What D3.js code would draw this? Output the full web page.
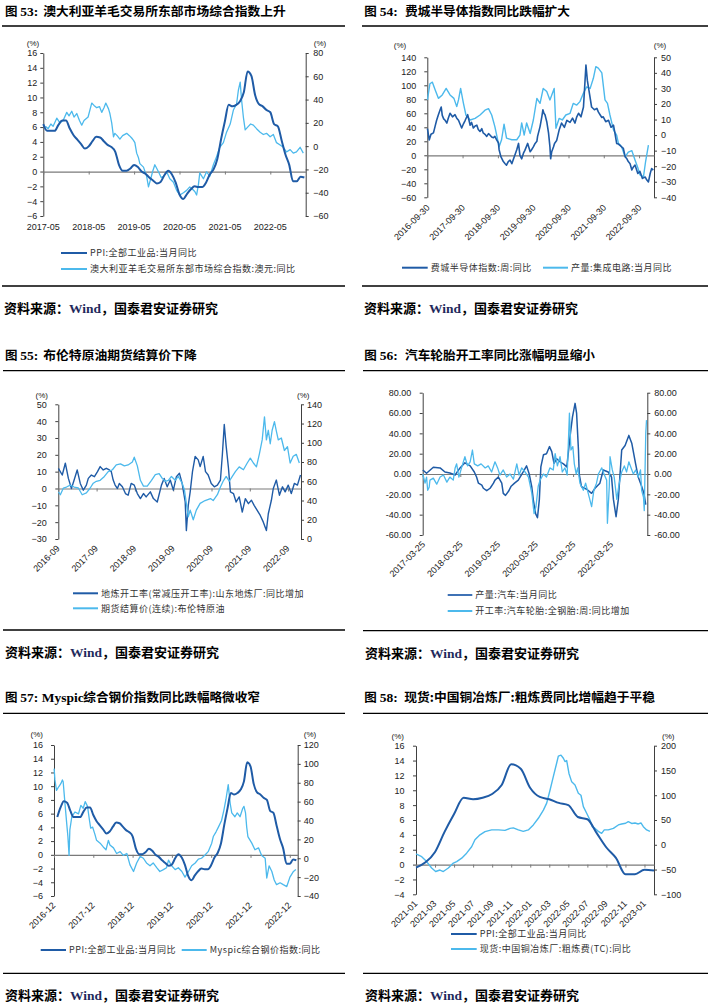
<!DOCTYPE html>
<html><head><meta charset="utf-8">
<script src="https://cdn.jsdelivr.net/npm/d3@7"></script>
<style>
body{margin:0;background:#fff}
svg{display:block}
</style></head>
<body><svg id="chart" width="710" height="1008"></svg>
<script>
// ---------------- DATA ----------------
// China PPI YoY (%), monthly from 2016-12
const ppiStart = [2016, 12];
const ppiValues = [5.5,
 6.9,7.8,7.6,6.4,5.5,5.5,5.5,6.3,6.9,6.9,5.8,4.9,
 4.3,3.7,3.1,3.4,4.1,4.7,4.6,4.1,3.6,3.3,2.7,0.9,
 0.1,0.1,0.4,0.9,0.6,0.0,-0.3,-0.8,-1.2,-1.6,-1.4,-0.5,
 0.1,-0.4,-1.5,-3.1,-3.7,-3.0,-2.4,-2.0,-2.1,-2.1,-1.5,-0.4,
 0.3,1.7,4.4,6.8,9.0,8.8,9.0,9.5,10.7,13.5,12.9,10.3,
 9.1,8.8,8.3,8.0,6.4,6.1,4.2,2.3,0.9,-1.3,-1.3,-0.7,
 -0.8];

// [decimal year, value]
const woolIndex = [[2017.33,21],[2017.38,17],[2017.44,15],[2017.50,19],[2017.55,17],[2017.63,24],[2017.70,20],[2017.77,22],[2017.85,29],[2017.90,26],[2017.96,30],[2018.01,25],[2018.07,28],[2018.13,22],[2018.18,18],[2018.23,22],[2018.32,25],[2018.40,37],[2018.45,35],[2018.51,33],[2018.57,34],[2018.62,29],[2018.67,33],[2018.71,37],[2018.77,32],[2018.80,28],[2018.84,20],[2018.88,8],[2018.91,11],[2018.96,9],[2019.02,6],[2019.08,9],[2019.17,11],[2019.23,9],[2019.28,7],[2019.32,5],[2019.35,3],[2019.39,-6],[2019.43,-10],[2019.46,-15],[2019.54,-18],[2019.61,-26],[2019.65,-35],[2019.70,-28],[2019.74,-22],[2019.79,-16],[2019.87,-22],[2019.93,-27],[2019.98,-26],[2020.05,-22],[2020.12,-28],[2020.20,-31],[2020.27,-38],[2020.34,-42],[2020.42,-40],[2020.49,-38],[2020.56,-35],[2020.62,-37],[2020.67,-39],[2020.71,-42],[2020.75,-33],[2020.78,-23],[2020.86,-28],[2020.93,-22],[2021.00,-26],[2021.08,-16],[2021.15,-9],[2021.22,-1],[2021.30,3],[2021.37,12],[2021.45,19],[2021.52,31],[2021.59,36],[2021.63,48],[2021.67,55],[2021.70,40],[2021.74,25],[2021.78,14],[2021.85,17],[2021.90,19],[2021.96,18],[2022.03,15],[2022.11,12],[2022.18,10],[2022.25,11],[2022.33,8],[2022.40,10],[2022.47,3],[2022.55,1],[2022.62,-1],[2022.69,-5],[2022.77,-3],[2022.84,-6],[2022.91,-5],[2022.99,-1],[2023.06,-6],[2023.12,-1]];

const soxIndex = [[2016.75,38],[2016.80,22],[2016.85,30],[2016.92,32],[2016.97,42],[2017.01,50],[2017.06,58],[2017.11,65],[2017.14,69],[2017.17,57],[2017.21,52],[2017.25,50],[2017.30,46],[2017.34,53],[2017.39,60],[2017.46,55],[2017.53,58],[2017.58,53],[2017.63,50],[2017.67,45],[2017.72,39],[2017.77,45],[2017.82,50],[2017.89,58],[2017.96,43],[2018.00,47],[2018.05,39],[2018.10,42],[2018.15,43],[2018.19,37],[2018.24,34],[2018.29,38],[2018.33,32],[2018.38,30],[2018.43,27],[2018.48,31],[2018.52,29],[2018.57,26],[2018.62,25],[2018.66,27],[2018.71,22],[2018.76,18],[2018.78,8],[2018.81,2],[2018.83,-2],[2018.90,-9],[2018.95,-12],[2018.99,-14],[2019.04,-9],[2019.09,-7],[2019.14,-12],[2019.21,-2],[2019.28,8],[2019.33,17],[2019.37,0],[2019.42,-5],[2019.47,3],[2019.51,7],[2019.59,17],[2019.66,5],[2019.70,8],[2019.75,12],[2019.80,17],[2019.85,20],[2019.87,27],[2019.94,41],[2019.99,55],[2020.02,65],[2020.05,60],[2020.08,58],[2020.13,48],[2020.18,32],[2020.22,12],[2020.24,-5],[2020.27,5],[2020.32,12],[2020.35,17],[2020.41,21],[2020.48,36],[2020.55,46],[2020.63,40],[2020.70,50],[2020.79,47],[2020.86,53],[2020.93,46],[2020.98,55],[2021.03,60],[2021.10,55],[2021.17,69],[2021.21,103],[2021.24,129],[2021.28,107],[2021.34,88],[2021.40,69],[2021.48,65],[2021.55,67],[2021.59,62],[2021.64,58],[2021.69,54],[2021.73,55],[2021.80,48],[2021.88,50],[2021.95,40],[2022.02,43],[2022.06,32],[2022.11,17],[2022.16,16],[2022.21,14],[2022.25,12],[2022.30,10],[2022.35,-2],[2022.40,-5],[2022.44,-9],[2022.49,-12],[2022.54,-21],[2022.58,-17],[2022.63,-14],[2022.71,-26],[2022.77,-23],[2022.84,-33],[2022.92,-31],[2022.96,-35],[2023.01,-38],[2023.06,-26],[2023.10,-19],[2023.15,-21]];

const icOutput = [[2016.75,22.6],[2016.82,33],[2016.89,34],[2016.97,29],[2017.06,23.6],[2017.17,25.8],[2017.28,30],[2017.39,25.8],[2017.50,23.6],[2017.58,18.3],[2017.63,22.6],[2017.69,30],[2017.77,20.4],[2017.84,12.9],[2017.96,9.7],[2018.10,10.7],[2018.24,12.9],[2018.38,16],[2018.48,17],[2018.57,12.9],[2018.66,5.4],[2018.78,-7.5],[2018.85,-3],[2018.92,7],[2018.99,-2],[2019.14,-3],[2019.28,-3],[2019.37,0],[2019.42,7.8],[2019.49,0],[2019.56,7.8],[2019.66,1],[2019.75,9.7],[2019.85,23.6],[2019.94,20.4],[2020.03,30],[2020.13,28],[2020.22,22.6],[2020.34,30],[2020.39,4.4],[2020.48,10.7],[2020.57,9.7],[2020.67,12.9],[2020.79,14],[2020.88,20.4],[2020.98,19.3],[2021.07,21.5],[2021.17,27],[2021.26,31],[2021.36,30],[2021.45,36.5],[2021.52,44],[2021.59,43],[2021.69,40],[2021.78,22.6],[2021.85,20.4],[2021.92,12.9],[2022.02,3.3],[2022.11,0],[2022.16,-5.3],[2022.25,-7.5],[2022.35,-14],[2022.44,-11],[2022.54,-10],[2022.63,-16],[2022.71,-21],[2022.77,-25.6],[2022.87,-26.8],[2022.93,-17],[2023.01,-6.4]];

const refineryRate = [[2016.67,12],[2016.77,8],[2016.85,15],[2016.93,6],[2017.01,0],[2017.08,5],[2017.16,11],[2017.24,3],[2017.32,-1],[2017.40,2],[2017.45,6],[2017.53,8],[2017.61,7],[2017.69,10],[2017.76,13],[2017.84,11],[2017.92,12],[2018.00,11],[2018.05,10],[2018.10,5],[2018.15,2],[2018.21,0],[2018.26,3],[2018.34,1],[2018.42,-3],[2018.49,-4],[2018.57,3],[2018.65,2],[2018.73,-3],[2018.81,-6],[2018.89,-3],[2018.96,-5],[2019.07,-2],[2019.15,-6],[2019.25,-8],[2019.36,2],[2019.43,6],[2019.51,1],[2019.59,5],[2019.67,-1],[2019.75,7],[2019.83,9],[2019.90,3],[2019.98,-8],[2020.01,-25],[2020.06,-10],[2020.11,-2],[2020.17,10],[2020.24,19],[2020.32,17],[2020.37,13],[2020.45,19],[2020.51,10],[2020.58,8],[2020.66,3],[2020.74,1],[2020.82,2],[2020.90,5],[2020.95,20],[2021.00,38],[2021.05,25],[2021.11,12],[2021.16,-2],[2021.24,-3],[2021.31,-8],[2021.39,-5],[2021.47,-14],[2021.55,-6],[2021.63,-9],[2021.71,-7],[2021.78,-10],[2021.86,-13],[2021.94,-16],[2022.02,-20],[2022.10,-25],[2022.15,-15],[2022.23,-7],[2022.28,0],[2022.36,5],[2022.44,-4],[2022.52,1],[2022.59,-2],[2022.67,2],[2022.75,-3],[2022.83,3],[2022.91,2],[2022.99,8]];

const brentPrice = [[2016.67,49],[2016.72,46],[2016.80,53],[2016.88,54],[2016.98,56],[2017.08,54],[2017.19,53],[2017.29,46],[2017.40,48],[2017.50,53],[2017.58,58],[2017.66,60],[2017.76,61],[2017.87,65],[2017.97,70],[2018.08,72],[2018.18,77],[2018.29,78],[2018.39,76],[2018.49,77],[2018.60,80],[2018.65,85],[2018.73,76],[2018.81,61],[2018.89,55],[2018.99,55],[2019.10,61],[2019.20,67],[2019.30,68],[2019.38,63],[2019.46,60],[2019.54,61],[2019.62,65],[2019.72,61],[2019.80,65],[2019.90,58],[2019.96,51],[2020.01,37],[2020.06,23],[2020.11,30],[2020.19,20],[2020.27,30],[2020.37,37],[2020.50,40],[2020.64,42],[2020.71,40],[2020.82,46],[2020.90,54],[2020.97,60],[2021.05,65],[2021.13,60],[2021.21,65],[2021.29,70],[2021.39,75],[2021.50,72],[2021.60,79],[2021.68,84],[2021.76,79],[2021.84,75],[2021.92,89],[2021.99,103],[2022.05,127],[2022.10,103],[2022.15,113],[2022.20,99],[2022.25,113],[2022.31,122],[2022.36,112],[2022.41,103],[2022.49,105],[2022.57,92],[2022.65,96],[2022.72,79],[2022.80,86],[2022.88,88],[2022.96,79],[2023.01,84]];

const autoOutput = [[2017.23,4],[2017.33,0.7],[2017.51,6.6],[2017.69,6],[2017.82,2],[2017.95,1],[2018.09,-1],[2018.22,6],[2018.35,11],[2018.49,8],[2018.60,2],[2018.66,-3],[2018.71,-9],[2018.80,-11],[2018.84,-14],[2018.93,-16.4],[2019.02,-14],[2019.11,-9],[2019.15,-6],[2019.24,-3],[2019.33,-9],[2019.37,-19],[2019.43,-21],[2019.51,-17],[2019.58,-12],[2019.67,-9],[2019.77,-6],[2019.90,2],[2019.99,8],[2020.06,0],[2020.13,-13],[2020.17,-25.6],[2020.23,-39],[2020.28,-43],[2020.33,-25],[2020.37,7],[2020.44,19],[2020.52,20],[2020.60,27],[2020.66,22],[2020.72,10.5],[2020.79,15],[2020.88,12],[2020.97,10],[2021.06,7],[2021.15,38],[2021.21,56],[2021.28,69.5],[2021.32,60],[2021.37,23.6],[2021.39,0],[2021.45,-12.5],[2021.59,-15],[2021.72,-19],[2021.81,-14],[2021.94,-9],[2022.03,4],[2022.16,2],[2022.25,-3],[2022.30,-25],[2022.37,-42],[2022.43,-25],[2022.52,23.6],[2022.61,28],[2022.71,38],[2022.79,30],[2022.89,10],[2022.96,-3],[2023.05,-12],[2023.11,-19],[2023.16,-30]];

const tireRate = [[2017.23,0],[2017.29,-9],[2017.33,-3],[2017.36,-16],[2017.40,-13],[2017.42,-6],[2017.51,-4],[2017.60,-10],[2017.69,-3],[2017.78,-1],[2017.87,-8],[2017.95,-3],[2018.04,-6],[2018.09,6],[2018.13,10],[2018.19,-3],[2018.26,6],[2018.35,17],[2018.42,8],[2018.49,12],[2018.55,23.6],[2018.60,10],[2018.69,8],[2018.78,10],[2018.89,6],[2018.97,8],[2019.06,2],[2019.15,12],[2019.22,6],[2019.28,-1],[2019.37,4],[2019.46,-3],[2019.55,0],[2019.64,-5],[2019.73,10],[2019.79,-1],[2019.86,6],[2019.95,2],[2020.04,-3],[2020.13,-19],[2020.19,-39],[2020.24,-32],[2020.30,-12],[2020.35,-6],[2020.44,0],[2020.52,-3],[2020.61,6],[2020.70,4],[2020.75,20],[2020.81,8],[2020.88,17],[2020.94,2],[2021.01,6],[2021.07,-1],[2021.13,60],[2021.17,23.6],[2021.22,27],[2021.26,10],[2021.31,0],[2021.35,6],[2021.41,-9],[2021.50,-16],[2021.56,-9],[2021.63,-19],[2021.72,-32],[2021.78,-16],[2021.85,-9],[2021.90,0],[2021.99,6],[2022.06,-1],[2022.12,-6],[2022.14,-48.5],[2022.19,-12],[2022.21,17],[2022.27,4],[2022.32,-3],[2022.39,-25],[2022.45,-10],[2022.52,2],[2022.59,8],[2022.65,2],[2022.71,12],[2022.77,6],[2022.83,0],[2022.89,4],[2022.96,-3],[2023.02,4],[2023.05,-16],[2023.10,-23],[2023.12,-36],[2023.16,40],[2023.18,53]];

const steelIndex = [[2016.92,95],[2016.94,83],[2016.98,72],[2017.04,76],[2017.09,79],[2017.13,83],[2017.15,81],[2017.20,56],[2017.24,37],[2017.27,23],[2017.30,3],[2017.32,30],[2017.37,44],[2017.45,49],[2017.54,47],[2017.60,56],[2017.66,53],[2017.71,60],[2017.77,55],[2017.82,40],[2017.85,32],[2017.90,33],[2017.96,25],[2018.00,19],[2018.09,16],[2018.17,12],[2018.24,9],[2018.30,19],[2018.34,14],[2018.43,11],[2018.51,5],[2018.60,7],[2018.68,3],[2018.77,5],[2018.85,-7],[2018.94,-14],[2019.02,-5],[2019.11,2],[2019.19,0],[2019.27,-5],[2019.36,-8],[2019.44,-5],[2019.53,-10],[2019.61,-14],[2019.70,-12],[2019.78,-10],[2019.83,-2],[2019.91,-8],[2020.00,-12],[2020.08,-10],[2020.17,-14],[2020.25,-20],[2020.34,-14],[2020.42,-8],[2020.51,-5],[2020.59,-1],[2020.67,0],[2020.76,3.4],[2020.84,7],[2020.93,16],[2020.97,23],[2021.04,28],[2021.10,33],[2021.18,40],[2021.24,51],[2021.29,62],[2021.35,78],[2021.40,58],[2021.44,48],[2021.52,44],[2021.58,48],[2021.65,44],[2021.72,53],[2021.75,55],[2021.79,48],[2021.82,33],[2021.85,23],[2021.95,16],[2022.03,9],[2022.12,11],[2022.20,3],[2022.29,0],[2022.33,-21],[2022.39,-8],[2022.46,-14],[2022.52,-23],[2022.58,-28],[2022.67,-26],[2022.75,-28],[2022.84,-30],[2022.92,-20],[2023.01,-14],[2023.07,-12],[2023.12,-16]];

const copperTC = [[2021.000,-18.6],[2021.050,-24],[2021.093,-34],[2021.137,-47],[2021.172,-54],[2021.210,-51],[2021.239,-54],[2021.283,-47],[2021.327,-37],[2021.356,-34],[2021.400,-27],[2021.443,-17],[2021.487,-4],[2021.516,10],[2021.560,20],[2021.604,26.5],[2021.662,30],[2021.721,30],[2021.779,29],[2021.823,33],[2021.852,34],[2021.896,30],[2021.939,27],[2021.983,30],[2022.027,40],[2022.071,53.5],[2022.115,70],[2022.144,84],[2022.173,110],[2022.202,137.5],[2022.231,164.5],[2022.246,179],[2022.269,181],[2022.290,174.6],[2022.304,168],[2022.319,170],[2022.339,144],[2022.363,127],[2022.392,120.7],[2022.421,104],[2022.444,100],[2022.465,77],[2022.494,63.6],[2022.523,50],[2022.543,36.5],[2022.567,33],[2022.596,27],[2022.625,23],[2022.648,30],[2022.683,30],[2022.728,33],[2022.771,40],[2022.800,42],[2022.835,43.4],[2022.858,46.6],[2022.888,43],[2022.917,44],[2022.946,42],[2022.969,44],[2022.990,36.5],[2023.019,30],[2023.048,27]];

// tick labels
const p53X = ["2017-05","2018-05","2019-05","2020-05","2021-05","2022-05"];
const p54X = ["2016-09-30","2017-09-30","2018-09-30","2019-09-30","2020-09-30","2021-09-30","2022-09-30"];
const p55X = ["2016-09","2017-09","2018-09","2019-09","2020-09","2021-09","2022-09"];
const p56X = ["2017-03-25","2018-03-25","2019-03-25","2020-03-25","2021-03-25","2022-03-25"];
const p57X = ["2016-12","2017-12","2018-12","2019-12","2020-12","2021-12","2022-12"];
const p58X = ["2021-01","2021-03","2021-05","2021-07","2021-09","2021-11","2022-01","2022-03","2022-05","2022-07","2022-09","2022-11","2023-01"];
const p53L = [-6,-4,-2,0,2,4,6,8,10,12,14,16], p53R = [-60,-40,-20,0,20,40,60,80];
const p54L = [-60,-40,-20,0,20,40,60,80,100,120,140], p54R = [-40,-30,-20,-10,0,10,20,30,40,50];
const p55L = [-30,-20,-10,0,10,20,30,40,50], p55R = [0,20,40,60,80,100,120,140];
const p56L = [-60,-40,-20,0,20,40,60,80], p56R = [-60,-40,-20,0,20,40,60,80];
const p57L = [-6,-4,-2,0,2,4,6,8,10,12,14,16], p57R = [-40,-20,0,20,40,60,80,100,120];
const p58L = [-4,-2,0,2,4,6,8,10,12,14,16], p58R = [-100,-50,0,50,100,150,200];

// texts
const titles = {
  53:"澳大利亚羊毛交易所东部市场综合指数上升",
  54:"费城半导体指数同比跌幅扩大",
  55:"布伦特原油期货结算价下降",
  56:"汽车轮胎开工率同比涨幅明显缩小",
  57:"综合钢价指数同比跌幅略微收窄",
  58:"现货:中国铜冶炼厂:粗炼费同比增幅趋于平稳"
};
const legendPPI = "PPI:全部工业品:当月同比";

// ---------------- DRAW ----------------
const CJK = '"Noto Sans CJK SC", sans-serif';
const NUM = '"Liberation Sans", Arial, sans-serif';
const SERIF = '"Liberation Serif", "Times New Roman", serif';
const DARK = '#1f5ba6', LIGHT = '#4cb9ec';
const svg = d3.select('#chart');

const tOf = s => {
  const [y, m, d] = s.split('-').map(Number);
  if (d) {
    const doy = (Date.UTC(y, m - 1, d) - Date.UTC(y, 0, 1)) / 864e5;
    const len = (Date.UTC(y + 1, 0, 1) - Date.UTC(y, 0, 1)) / 864e5;
    return y + doy / len;
  }
  return y + (m - 1) / 12;
};
const ppiSeries = ppiValues.map((v, i) => {
  const idx = ppiStart[0] * 12 + ppiStart[1] - 1 + i;
  return [Math.floor(idx / 12) + (idx % 12 + 1) / 12, v];
});

function panel(p) {
  const g = svg.append('g');
  // title
  const tt = g.append('text').attr('x', p.px).attr('y', p.ty).attr('fill', '#000');
  tt.append('tspan').attr('font-family', CJK).attr('font-weight', 700).attr('font-size', 12.5).text('图 ');
  tt.append('tspan').attr('font-family', SERIF).attr('font-weight', 700).attr('font-size', 13.5).text(p.no + ':' + (p.extra || ''));
  g.append('text').attr('x', p.tx).attr('y', p.ty).attr('font-family', CJK).attr('font-weight', 700)
    .attr('font-size', 12.5).attr('textLength', p.tlen).attr('lengthAdjust', 'spacingAndGlyphs').text(titles[p.no]);
  // rules
  g.append('line').attr('x1', p.r1).attr('x2', p.r2).attr('y1', p.ruleY).attr('y2', p.ruleY).attr('stroke', '#000').attr('stroke-width', 1.3);
  g.append('line').attr('x1', p.r1).attr('x2', p.r2).attr('y1', p.botY).attr('y2', p.botY).attr('stroke', '#000').attr('stroke-width', 1.3);
  // source (single text, flowing tspans)
  const src = g.append('text').attr('x', p.r1 + 2).attr('y', p.botY + 27).attr('font-weight', 700).attr('fill', '#000');
  src.append('tspan').attr('font-family', CJK).attr('font-size', 13).text('资料来源：');
  src.append('tspan').attr('font-family', SERIF).attr('font-size', 13.5).attr('fill', '#1f2a5c').text('Wind');
  src.append('tspan').attr('font-family', CJK).attr('font-size', 13).text('，国泰君安证券研究');

  // scales
  const t0 = tOf(p.xl[0]);
  const x = d3.scaleLinear().domain([t0, t0 + (p.right - p.left) / p.ppy]).range([p.left, p.right]);
  const yL = d3.scaleLinear().domain([p.lt[0], p.lt[p.lt.length - 1]]).range([p.bottom, p.top]);
  const yR = d3.scaleLinear().domain([p.rt[0], p.rt[p.rt.length - 1]]).range([p.bottom, p.top]);

  const styleAxis = (a) => {
    a.selectAll('path').attr('stroke', '#404040').attr('stroke-width', 1);
    a.selectAll('line').attr('stroke', '#404040');
    a.selectAll('text').attr('font-family', NUM).attr('font-size', 9).attr('fill', '#222');
  };
  g.append('g').attr('transform', `translate(${p.left},0)`)
    .call(d3.axisLeft(yL).tickValues(p.lt).tickSize(3).tickSizeOuter(0).tickPadding(p.lpad).tickFormat(p.fmt))
    .call(styleAxis);
  g.append('g').attr('transform', `translate(${p.right},0)`)
    .call(d3.axisRight(yR).tickValues(p.rt).tickSize(3).tickSizeOuter(0).tickPadding(p.rpad).tickFormat(p.fmt))
    .call(styleAxis);
  // zero line with ticks
  const xt = p.xl.map(tOf);
  g.append('g').attr('transform', `translate(0,${yL(0)})`)
    .call(d3.axisBottom(x).tickValues(xt).tickSize(3).tickSizeOuter(0).tickFormat(''))
    .call(a => { a.selectAll('path').attr('stroke', '#7a7a7a').attr('stroke-width', 1.2); a.selectAll('line').attr('stroke', '#7a7a7a'); });
  // x labels
  p.xl.forEach((lab, i) => {
    const xx = x(xt[i]);
    const t = g.append('text').attr('font-family', NUM).attr('font-size', 9).attr('fill', '#222').text(lab);
    if (p.rot) {
      t.attr('text-anchor', 'end').attr('transform', `translate(${xx + p.ldx},${p.bottom + p.ldy}) rotate(-45)`);
    } else {
      t.attr('text-anchor', 'middle').attr('x', xx).attr('y', p.bottom + 13.5);
    }
  });
  // (%)
  if (p.pct) {
    [[p.pct[0], p.pct[2]], [p.pct[1], p.pct[2]]].forEach(([px, py]) =>
      g.append('text').attr('x', px).attr('y', py).attr('text-anchor', 'middle').attr('font-family', NUM)
        .attr('font-size', 8).attr('fill', '#222').text('(%)'));
  }
  // series
  p.series.forEach(s => {
    const ys = s.axis === 'L' ? yL : yR;
    const data = s.data.filter(d => d[0] >= x.domain()[0] - 0.001 && d[0] <= x.domain()[1] + 0.001);
    const line = d3.line().x(d => x(d[0])).y(d => ys(d[1])).curve(s.smooth ? d3.curveMonotoneX : d3.curveLinear);
    g.append('path').datum(data).attr('d', line).attr('fill', 'none').attr('stroke', s.color)
      .attr('stroke-width', s.w).attr('stroke-linejoin', 'round');
  });
  // legend
  p.legend.forEach(l => {
    g.append('line').attr('x1', l[0]).attr('x2', l[1]).attr('y1', l[2]).attr('y2', l[2]).attr('stroke', l[4]).attr('stroke-width', 2);
    g.append('text').attr('x', l[1] + 3).attr('y', l[2] + 3.2).attr('font-family', CJK).attr('font-size', 9)
      .attr('letter-spacing', 0.5).attr('fill', '#333').text(l[3]);
  });
}

const fmtInt = d3.format('d');
const fmt2 = d => d3.format('.2f')(d).replace('−', '-');

panel({no:53, px:5, tx:43.3, tlen:242.4, ty:16, r1:2, r2:345, ruleY:26, botY:286,
  left:43.3, right:305.7, top:53, bottom:216, ppy:45.4, xl:p53X, rot:false,
  lt:p53L, rt:p53R, lpad:3, rpad:4.5, fmt:fmtInt, pct:[33, 320, 46],
  series:[{data:woolIndex, axis:'R', color:LIGHT, w:1.3}, {data:ppiSeries, axis:'L', color:DARK, w:2, smooth:true}],
  legend:[[61, 87, 253, legendPPI, DARK], [61, 87, 269, "澳大利亚羊毛交易所东部市场综合指数:澳元:同比", LIGHT]]});

panel({no:54, px:364.3, tx:405, tlen:165, ty:16, r1:362, r2:708, ruleY:26, botY:286,
  left:427.3, right:654, top:57.3, bottom:197.3, ppy:35.3, xl:p54X, rot:true, ldx:3, ldy:11,
  lt:p54L, rt:p54R, lpad:8, rpad:4, fmt:fmtInt, pct:[400, 660, 48],
  series:[{data:icOutput, axis:'R', color:LIGHT, w:1.4}, {data:soxIndex, axis:'L', color:DARK, w:1.6}],
  legend:[[402, 427.7, 267.7, "费城半导体指数:周:同比", DARK], [543, 568, 267.7, "产量:集成电路:当月同比", LIGHT]]});

panel({no:55, px:5, tx:43.3, tlen:153.4, ty:359.5, r1:3, r2:345, ruleY:370.7, botY:630,
  left:58.3, right:301, top:404.3, bottom:539, ppy:38.3, xl:p55X, rot:true, ldx:2, ldy:10,
  lt:p55L, rt:p55R, lpad:8.5, rpad:3, fmt:fmtInt, pct:[41.7, 303.3, 398],
  series:[{data:refineryRate, axis:'L', color:DARK, w:1.4}, {data:brentPrice, axis:'R', color:LIGHT, w:1.3}],
  legend:[[73, 98, 593.3, "地炼开工率(常减压开工率):山东地炼厂:同比增加", DARK], [73, 98, 608.3, "期货结算价(连续):布伦特原油", LIGHT]]});

panel({no:56, px:364.3, tx:405, tlen:190, ty:359.5, r1:363, r2:708, ruleY:370.7, botY:630.7,
  left:422.7, right:647.3, top:392.7, bottom:535, ppy:37.6, xl:p56X, rot:true, ldx:3, ldy:10,
  lt:p56L, rt:p56R, lpad:8.5, rpad:4, fmt:fmt2, pct:null,
  series:[{data:autoOutput, axis:'L', color:DARK, w:1.5}, {data:tireRate, axis:'R', color:LIGHT, w:1.3}],
  legend:[[447.7, 472.3, 595, "产量:汽车:当月同比", '#3f72b5'], [447.7, 472.3, 611, "开工率:汽车轮胎:全钢胎:周:同比增加", LIGHT]]});

panel({no:57, px:5, tx:83.3, tlen:176.7, ty:702, r1:3, r2:345, ruleY:713.3, botY:973.3, extra:' Myspic',
  left:54, right:297.7, top:745, bottom:896, ppy:39.3, xl:p57X, rot:true, ldx:2, ldy:10,
  lt:p57L, rt:p57R, lpad:8, rpad:3, fmt:fmtInt, pct:[36.7, 310, 737],
  series:[{data:steelIndex, axis:'R', color:LIGHT, w:1.3}, {data:ppiSeries, axis:'L', color:DARK, w:2, smooth:true}],
  legend:[[40.7, 66, 950, legendPPI, DARK], [181.7, 206.7, 950, "Myspic综合钢价指数:同比", LIGHT]]});

panel({no:58, px:364.3, tx:404.3, tlen:250.7, ty:702, r1:363, r2:708, ruleY:713.3, botY:973.3,
  left:416, right:654, top:745.7, bottom:894.3, ppy:114.24, xl:p58X, rot:true, ldx:2, ldy:10,
  lt:p58L, rt:p58R, lpad:8.5, rpad:4, fmt:fmtInt, pct:[397.7, 668.3, 738.5],
  series:[{data:copperTC, axis:'R', color:LIGHT, w:1.4}, {data:ppiSeries, axis:'L', color:DARK, w:2, smooth:true}],
  legend:[[451, 476.7, 934, legendPPI, DARK], [451, 476.7, 949, "现货:中国铜冶炼厂:粗炼费(TC):同比", LIGHT]]});
</script>
</body></html>
